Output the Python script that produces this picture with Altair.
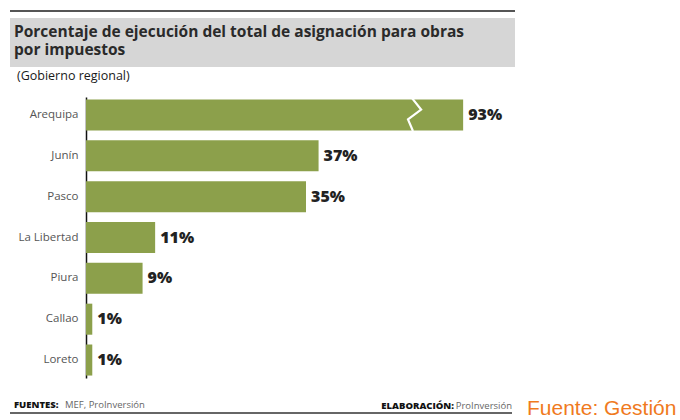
import altair as alt
import pandas as pd

# ---- data ----
regions = ["Arequipa", "Junín", "Pasco", "La Libertad", "Piura", "Callao", "Loreto"]
values = [93, 37, 35, 11, 9, 1, 1]
labels = ["93%", "37%", "35%", "11%", "9%", "1%", "1%"]
bar_cap = 60  # Arequipa bar is drawn broken (truncated) like in the original
break_at = [52.5, None, None, None, None, None, None]  # break mark on the truncated bar (%)

title_lines = ["Porcentaje de ejecución del total de asignación para obras", "por impuestos"]
subtitle = "(Gobierno regional)"
src_bold, src_text = "FUENTES:", "MEF, ProInversión"
elab_bold, elab_text = "ELABORACIÓN:", "ProInversión"
credit = "Fuente: Gestión"

df = pd.DataFrame({"region": regions, "value": values, "label": labels, "brk": break_at})
df["disp"] = df["value"].clip(upper=bar_cap)

W, H = 440, 281
BAR = "#8ca04b"
FONT = "Open Sans"
XS = alt.Scale(domain=[0, 70])
ZIGZAG = "M-0.25,-1.05L0.32,-0.34L-0.5,0.28L-0.19,1.0"

yenc = alt.Y("region:N", sort=regions, title=None,
             scale=alt.Scale(paddingInner=0.24, paddingOuter=0.06),
             axis=alt.Axis(domainColor="#111", domainWidth=1.5, ticks=False,
                           labelPadding=8, labelFontSize=11.5, labelColor="#555",
                           labelFont=FONT, grid=False))
xenc = alt.X("disp:Q", scale=XS, axis=None)

base = alt.Chart(df)
bars = base.mark_bar(color=BAR).encode(x=xenc, y=yenc)
txt = base.mark_text(align="left", baseline="middle", dx=5, font=FONT,
                     fontWeight=800, fontSize=16, color="#222").encode(
    x=xenc, y=alt.Y("region:N", sort=regions), text="label:N")
zz = base.mark_point(shape=ZIGZAG, filled=False, size=1024, opacity=1,
                     stroke="white", strokeWidth=2.2).encode(
    x=alt.X("brk:Q", scale=XS, axis=None), y=alt.Y("region:N", sort=regions))

one = alt.Data(values=[{"a": 1}])

def deco_text(t, x, y, size, color="#222", weight="normal", align="left", font=FONT):
    return alt.Chart(one).mark_text(text=t, align=align, baseline="middle", font=font,
                                    fontSize=size, fontWeight=weight, color=color).encode(
        x=alt.value(x), y=alt.value(y))

top_rule = alt.Chart(one).mark_rule(color="#555", strokeWidth=2).encode(
    x=alt.value(-76), x2=alt.value(429), y=alt.value(-86))
title_bg = alt.Chart(one).mark_rect(color="#d6d6d6").encode(
    x=alt.value(-76), x2=alt.value(429), y=alt.value(-79), y2=alt.value(-30))
bot_rule = alt.Chart(one).mark_rule(color="#333", strokeWidth=1.5).encode(
    x=alt.value(-76), x2=alt.value(426), y=alt.value(316))

layers = [
    top_rule, title_bg,
    deco_text(title_lines[0], -72, -65, 15.5, "#2a2a2a", 700),
    deco_text(title_lines[1], -72, -47, 15.5, "#2a2a2a", 700),
    deco_text(subtitle, -69, -21, 12.5, "#1a1a1a"),
    bars, zz, txt,
    deco_text(src_bold, -72, 308, 9.5, "#111", 800),
    deco_text(src_text, -21, 308, 9.5, "#666"),
    deco_text(elab_bold, 368, 309, 9.5, "#111", 800, "right"),
    deco_text(elab_text, 426, 309, 9.5, "#666", "normal", "right"),
    bot_rule,
    deco_text(credit, 441, 312, 21, "#f07a1e", "normal", "left", "Liberation Sans"),
]

chart = alt.layer(*layers).properties(
    width=W, height=H,
    autosize=alt.AutoSizeParams(type="none"),
    padding={"left": 86, "top": 97, "right": 154, "bottom": 42},
).configure_view(stroke=None)

chart.save("out.html", embed_options={"renderer": "svg", "actions": False})
